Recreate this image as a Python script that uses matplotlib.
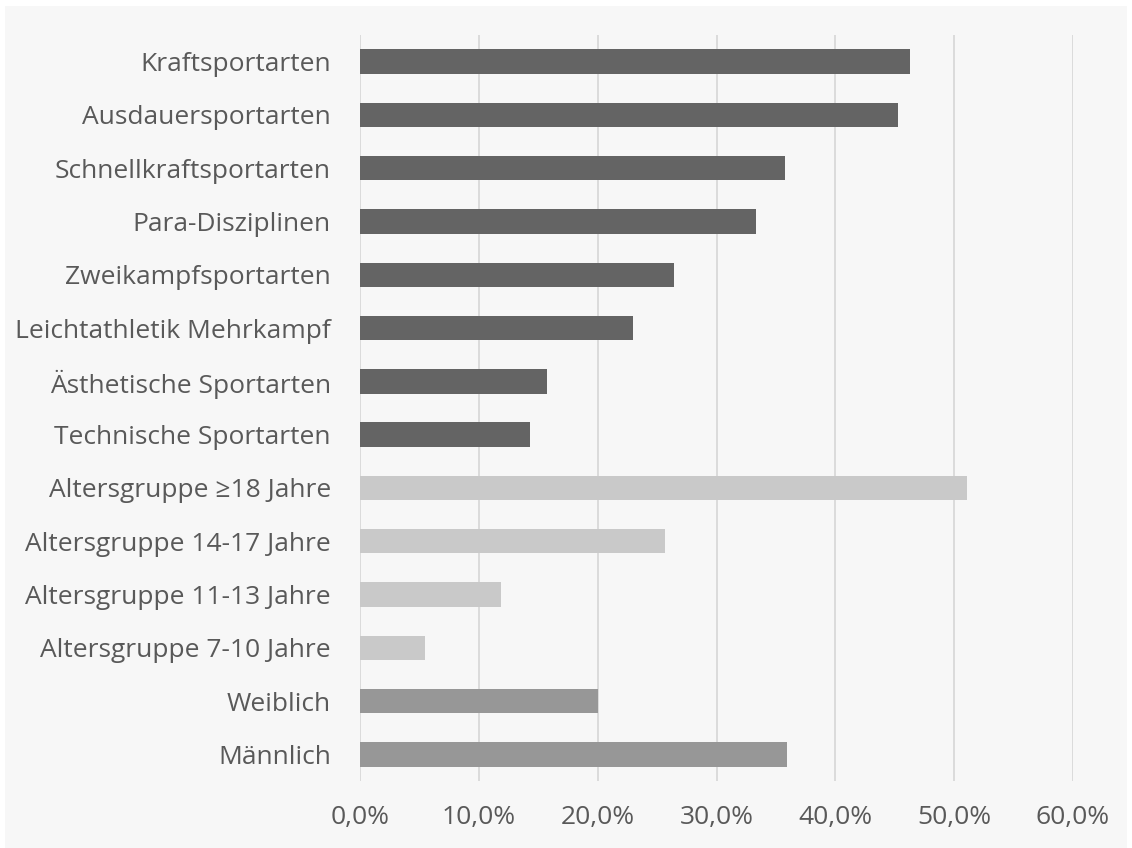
import matplotlib
matplotlib.use("Agg")
import matplotlib.pyplot as plt
from matplotlib.patches import Rectangle
from matplotlib.ticker import FuncFormatter

# categories from top to bottom
categories = [
    "Kraftsportarten", "Ausdauersportarten", "Schnellkraftsportarten",
    "Para-Disziplinen", "Zweikampfsportarten", "Leichtathletik Mehrkampf",
    "Ästhetische Sportarten", "Technische Sportarten",
    "Altersgruppe ≥18 Jahre", "Altersgruppe 14-17 Jahre",
    "Altersgruppe 11-13 Jahre", "Altersgruppe 7-10 Jahre",
    "Weiblich", "Männlich",
]
values = [46.3, 45.3, 35.8, 33.3, 26.4, 23.0, 15.7, 14.3,
          51.1, 25.7, 11.9, 5.5, 20.0, 35.9]
groups = ["sport"] * 8 + ["age"] * 4 + ["gender"] * 2
group_colors = {"sport": "#646464", "age": "#C9C9C9", "gender": "#979797"}
xticks = [0, 10, 20, 30, 40, 50, 60]

plt.rcParams['font.family'] = ['Open Sans', 'DejaVu Sans']
text_color = "#595959"

fig = plt.figure(figsize=(11.32, 8.48), dpi=100, facecolor="white")
bg = Rectangle((5 / 1132, 0.0), 1 - 10 / 1132, 1 - 6 / 848,
               transform=fig.transFigure, facecolor="#F7F7F7",
               edgecolor="none", zorder=-10)
fig.add_artist(bg)
ax = fig.add_axes([360 / 1132, 1 - 781 / 848, (1073 - 360) / 1132, (781 - 35) / 848])
ax.set_zorder(5)
ax.patch.set_alpha(0)

y = list(range(len(categories)))
colors = [group_colors[g] for g in groups]
ax.barh(y, values, height=0.46, color=colors, zorder=3)

ax.set_ylim(len(categories) - 0.5, -0.5)
ax.set_xlim(0, 60)
ax.set_xticks(xticks)
ax.xaxis.set_major_formatter(FuncFormatter(lambda v, p: f"{v:.1f}%".replace(".", ",")))
ax.set_yticks(y)
ax.set_yticklabels(categories)

ax.grid(axis="x", color="#D9D9D9", linewidth=1.3, zorder=1)
ax.tick_params(axis="both", length=0, labelsize=19, colors=text_color)
ax.tick_params(axis="y", pad=21)
ax.tick_params(axis="x", pad=17)
for s in ax.spines.values():
    s.set_visible(False)

fig.savefig("out.png", dpi=100, facecolor=fig.get_facecolor())
